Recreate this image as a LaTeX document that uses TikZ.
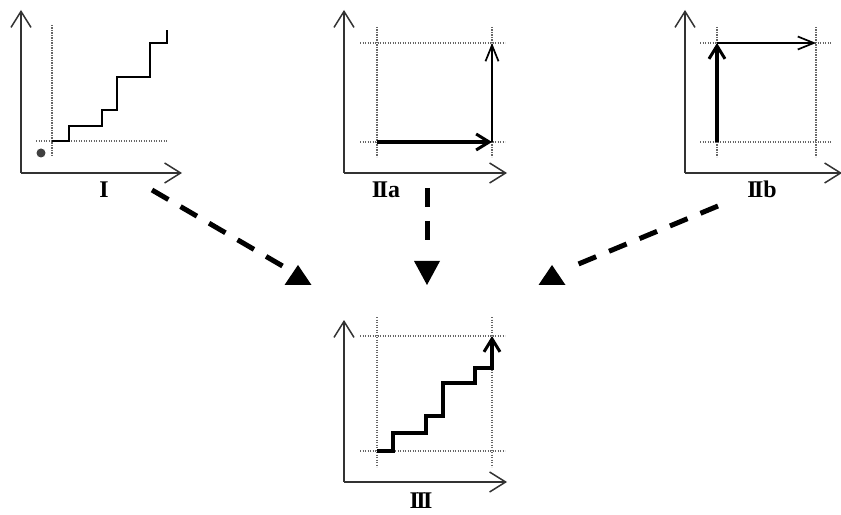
\documentclass[tikz,border=0pt]{standalone}
\usepackage{fontspec}
\setmainfont{Liberation Serif}
\usetikzlibrary{arrows.meta,calc}
\newcommand{\kI}{\kern-2.5bp}
\begin{document}
\begin{tikzpicture}[x=1bp,y=-1bp,
  axis/.style={line width=1.8bp,draw=black!80,-{Straight Barb[length=16bp,width=20bp,line width=1.5bp]}},
  guide/.style={line width=1.7bp,draw=black!60,dash pattern=on 1.3bp off 1.2bp},
  stair/.style={line width=1.9bp,draw=black},
  thickstair/.style={line width=3.3bp,draw=black},
  thinarrow/.style={line width=1.7bp,draw=black,-{Straight Barb[length=16bp,width=13bp,line width=1.7bp]}},
  thickarrow/.style={line width=3.4bp,draw=black,-{Straight Barb[length=13bp,width=16bp,line width=3bp]}},
  flow/.style={line width=5bp,draw=black,dash pattern=on 19bp off 14bp},
  tri/.style={fill=black},
  lab/.style={font=\fontsize{24}{24}\selectfont\bfseries,inner sep=0pt,anchor=base}
]
\useasboundingbox (0,0) rectangle (841,515);

% ---------- Panel I ----------
\coordinate (oI) at (21,173);
\draw[axis] (oI) -- (21,10);
\draw[axis] (oI) -- (182,173);
\draw[guide] (52,25) -- (52,157);
\draw[guide] (36,141) -- (167,141);
\fill[black!75] (41,153) circle (4.5bp);
\draw[stair] (52,141) -- (69,141) -- (69,126) -- (102,126) -- (102,110) -- (117,110)
  -- (117,77) -- (150,77) -- (150,43) -- (167,43) -- (167,30);
\node[lab] (lI) at (104,198) {I};

% ---------- Panel IIa ----------
\coordinate (oIIa) at (344,173);
\draw[axis] (oIIa) -- (344,10);
\draw[axis] (oIIa) -- (507,173);
\draw[guide] (377,27) -- (377,157);
\draw[guide] (492,27) -- (492,157);
\draw[guide] (360,43) -- (505,43);
\draw[guide] (360,142) -- (505,142);
\coordinate (aS) at (377,142);
\coordinate (aC) at (492,142);
\coordinate (aE) at (492,43);
\draw[thickarrow] (aS) -- (aC);
\draw[thinarrow] (aC) -- (aE);
\node[lab] (lIIa) at (386,198) {I\kI Ia};

% ---------- Panel IIb ----------
\coordinate (oIIb) at (685,173);
\draw[axis] (oIIb) -- (685,10);
\draw[axis] (oIIb) -- (842,173);
\draw[guide] (717,27) -- (717,157);
\draw[guide] (816,27) -- (816,157);
\draw[guide] (700,43) -- (832,43);
\draw[guide] (700,142) -- (832,142);
\coordinate (bS) at (717,142);
\coordinate (bC) at (717,43);
\coordinate (bE) at (816,43);
\draw[thickarrow] (bS) -- (bC);
\draw[thinarrow] (bC) -- (bE);
\node[lab] (lIIb) at (762,198) {I\kI Ib};

% ---------- Panel III ----------
\coordinate (oIII) at (344,482);
\draw[axis] (oIII) -- (344,320);
\draw[axis] (oIII) -- (507,482);
\draw[guide] (377,317) -- (377,467);
\draw[guide] (492,317) -- (492,467);
\draw[guide] (360,336) -- (505,336);
\draw[guide] (360,451) -- (505,451);
\draw[thickstair] (377,451) -- (393,451) -- (393,433) -- (426,433) -- (426,416) -- (443,416)
  -- (443,383) -- (475,383) -- (475,368) -- (492,368);
\draw[thickarrow] (492,369.6) -- (492,336);
\node[lab] (lIII) at (421,508) {I\kI I\kI I};

% ---------- flow arrows ----------
\coordinate (fIs) at (152,190);
\coordinate (tI) at (298,275);
\coordinate (fIIas) at (427,188);
\coordinate (tIIa) at (427,273);
\coordinate (fIIbs) at (718,206);
\coordinate (tIIb) at (552,275);
\draw[flow] (fIs) -- ($(fIs)!0.93!(tI)$);
\draw[flow] (fIIas) -- (427,246);
\draw[flow] (fIIbs) -- ($(fIIbs)!0.9!(tIIb)$);
\fill[tri] (tI) ++(0,-10) -- ++(13.5,20) -- ++(-27,0) -- cycle;
\fill[tri] (tIIb) ++(0,-10) -- ++(13.5,20) -- ++(-27,0) -- cycle;
\fill[tri] (tIIa) ++(0,12) -- ++(-13,-24) -- ++(26,0) -- cycle;
\end{tikzpicture}
\end{document}
